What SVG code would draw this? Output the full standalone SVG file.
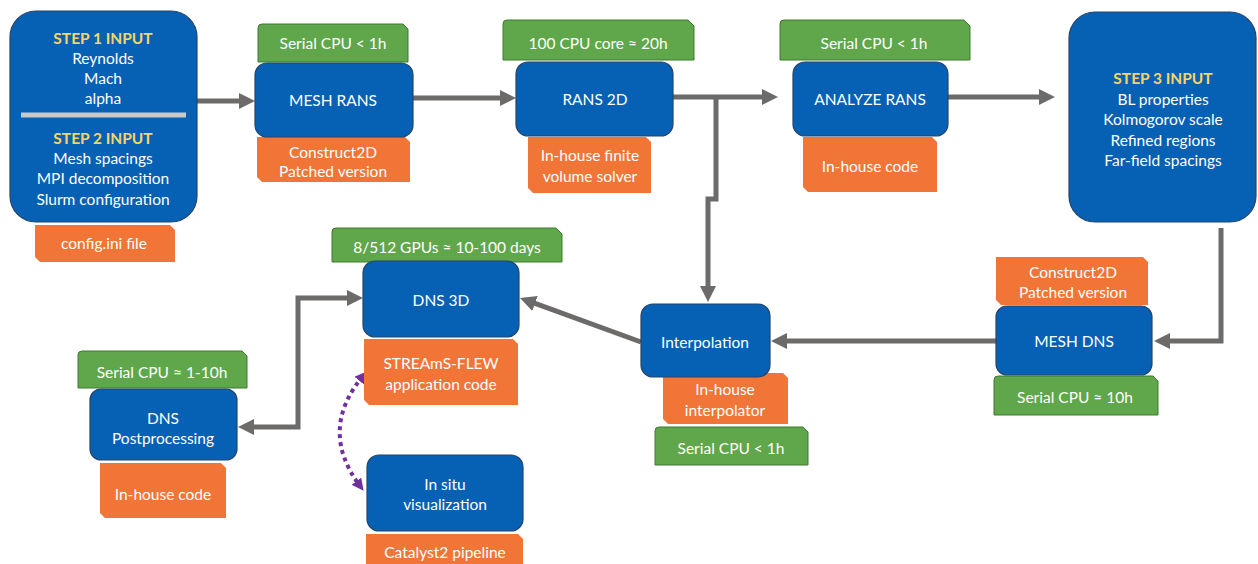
<svg xmlns="http://www.w3.org/2000/svg" width="1258" height="564" viewBox="0 0 1258 564">
<style>
.box{fill:#0660b3;stroke:#24456b;stroke-width:1.2}
.grn{fill:#5fa74a;stroke:#3f7a30;stroke-width:1}
.org{fill:#f07537}
text{font-family:Lato,"Open Sans","Liberation Sans",sans-serif;font-size:15.5px;fill:#ffffff;text-anchor:middle;dominant-baseline:central}
.hd{font-weight:bold;fill:#f7d469}
.ar{fill:none;stroke:#6d6a6a;stroke-width:5}
.dot{fill:none;stroke:#7030a0;stroke-width:4;stroke-dasharray:4 4}
</style>
<defs>
<marker id="ah" viewBox="0 0 16 16" markerWidth="16" markerHeight="16" refX="8" refY="8" orient="auto-start-reverse" markerUnits="userSpaceOnUse"><path d="M0,0 L16,8 L0,16 Z" fill="#6d6a6a"/></marker>
<marker id="ap" viewBox="0 0 12 12" markerWidth="12" markerHeight="12" refX="6" refY="6" orient="auto-start-reverse" markerUnits="userSpaceOnUse"><path d="M0,0 L12,6 L0,12 Z" fill="#7030a0"/></marker>
</defs>

<g id="connectors">
<path class="ar" d="M197,101 H247" marker-end="url(#ah)"/>
<path class="ar" d="M413,98 H508" marker-end="url(#ah)"/>
<path class="ar" d="M673,97 H770" marker-end="url(#ah)"/>
<path class="ar" d="M716,97 V199 H708 V294" marker-end="url(#ah)"/>
<path class="ar" d="M948,97 H1047" marker-end="url(#ah)"/>
<path class="ar" d="M1221,228 V341 H1162" marker-end="url(#ah)"/>
<path class="ar" d="M996,341 H779" marker-end="url(#ah)"/>
<path class="ar" d="M641,342 L527.5,300.7" marker-end="url(#ah)"/>
<path class="ar" d="M355,298 H298 V427 H246" marker-start="url(#ah)" marker-end="url(#ah)"/>
<path class="dot" d="M363,376 Q318,430 360,486" marker-start="url(#ap)" marker-end="url(#ap)"/>
</g>

<g id="step12">
<rect class="box" x="10" y="11" width="187" height="211" rx="26"/>
<line x1="21" y1="115" x2="186" y2="115" stroke="#c9c9c9" stroke-width="5"/>
<text class="hd" x="103" y="38">STEP 1 INPUT</text>
<text x="103" y="58">Reynolds</text>
<text x="103" y="78">Mach</text>
<text x="103" y="98">alpha</text>
<text class="hd" x="103" y="138">STEP 2 INPUT</text>
<text x="103" y="158">Mesh spacings</text>
<text x="103" y="178">MPI decomposition</text>
<text x="103" y="199">Slurm configuration</text>
</g>
<g id="config">
<path class="org" d="M35,225 H170 L175,230 V262 H40 L35,257 Z"/>
<text x="104" y="243">config.ini file</text>
</g>

<g id="meshrans">
<path class="grn" d="M262,24 H403 L408,29 V62 H258 V28 Q258,24 262,24 Z"/>
<text x="333" y="43">Serial CPU &lt; 1h</text>
<path class="org" d="M257,137 H405 L410,142 V182 H262 L257,177 Z"/>
<text x="333" y="152">Construct2D</text>
<text x="333" y="171">Patched version</text>
<rect class="box" x="255" y="63" width="158" height="74" rx="12"/>
<text x="333" y="100">MESH RANS</text>
</g>

<g id="rans2d">
<path class="grn" d="M507,20 H688 L694,26 V60 H503 V24 Q503,20 507,20 Z"/>
<text x="598" y="43">100 CPU core ≈ 20h</text>
<path class="org" d="M528,137 H646 L651,142 V193 H533 L528,188 Z"/>
<text x="590" y="155">In-house finite</text>
<text x="590" y="176">volume solver</text>
<rect class="box" x="516" y="62" width="157" height="74" rx="12"/>
<text x="595" y="99">RANS 2D</text>
</g>

<g id="analyze">
<path class="grn" d="M784,20 H964 L970,26 V60 H780 V24 Q780,20 784,20 Z"/>
<text x="874" y="43">Serial CPU &lt; 1h</text>
<path class="org" d="M803,137 H932 L937,142 V192 H808 L803,187 Z"/>
<text x="870" y="166">In-house code</text>
<rect class="box" x="793" y="62" width="155" height="74" rx="12"/>
<text x="870" y="99">ANALYZE RANS</text>
</g>

<g id="step3">
<rect class="box" x="1069" y="12" width="187" height="210" rx="26"/>
<text class="hd" x="1163" y="78">STEP 3 INPUT</text>
<text x="1163" y="99">BL properties</text>
<text x="1163" y="119">Kolmogorov scale</text>
<text x="1163" y="140">Refined regions</text>
<text x="1163" y="160">Far-field spacings</text>
</g>

<g id="meshdns">
<path class="org" d="M996,257 H1143 L1148,262 V305 H1001 L996,300 Z"/>
<text x="1073" y="272">Construct2D</text>
<text x="1073" y="292">Patched version</text>
<path class="grn" d="M998,376 H1153 L1158,381 V415 H994 V380 Q994,376 998,376 Z"/>
<text x="1075" y="397">Serial CPU ≈ 10h</text>
<rect class="box" x="996" y="306" width="156" height="69" rx="11"/>
<text x="1074" y="341">MESH DNS</text>
</g>

<g id="interp">
<path class="org" d="M663,373 H783 L788,378 V424 H668 L663,419 Z"/>
<text x="725" y="389">In-house</text>
<text x="725" y="410">interpolator</text>
<path class="grn" d="M659,427 H803 L808,432 V465 H655 V431 Q655,427 659,427 Z"/>
<text x="731" y="448">Serial CPU &lt; 1h</text>
<rect class="box" x="641" y="304" width="129" height="73" rx="12"/>
<text x="705" y="342">Interpolation</text>
</g>

<g id="dns3d">
<path class="grn" d="M336,228 H556 L562,234 V262 H332 V232 Q332,228 336,228 Z"/>
<text x="447" y="247">8/512 GPUs ≈ 10-100 days</text>
<path class="org" d="M364,339 H513 L518,344 V405 H369 L364,400 Z"/>
<text x="441" y="363">STREAmS-FLEW</text>
<text x="441" y="384">application code</text>
<rect class="box" x="363" y="261" width="156" height="76" rx="12"/>
<text x="441" y="300">DNS 3D</text>
</g>

<g id="dnspost">
<path class="grn" d="M82,351 H242 L247,356 V388 H78 V355 Q78,351 82,351 Z"/>
<text x="162" y="372">Serial CPU ≈ 1-10h</text>
<path class="org" d="M100,463 H221 L226,468 V518 H105 L100,513 Z"/>
<text x="163" y="494">In-house code</text>
<rect class="box" x="90" y="389" width="147" height="71" rx="11"/>
<text x="163" y="418">DNS</text>
<text x="163" y="438">Postprocessing</text>
</g>

<g id="insitu">
<path class="org" d="M366,534 H518 L523,539 V564 H366 Z"/>
<text x="445" y="552">Catalyst2 pipeline</text>
<rect class="box" x="367" y="455" width="156" height="76" rx="12"/>
<text x="445" y="484">In situ</text>
<text x="445" y="504">visualization</text>
</g>
</svg>
